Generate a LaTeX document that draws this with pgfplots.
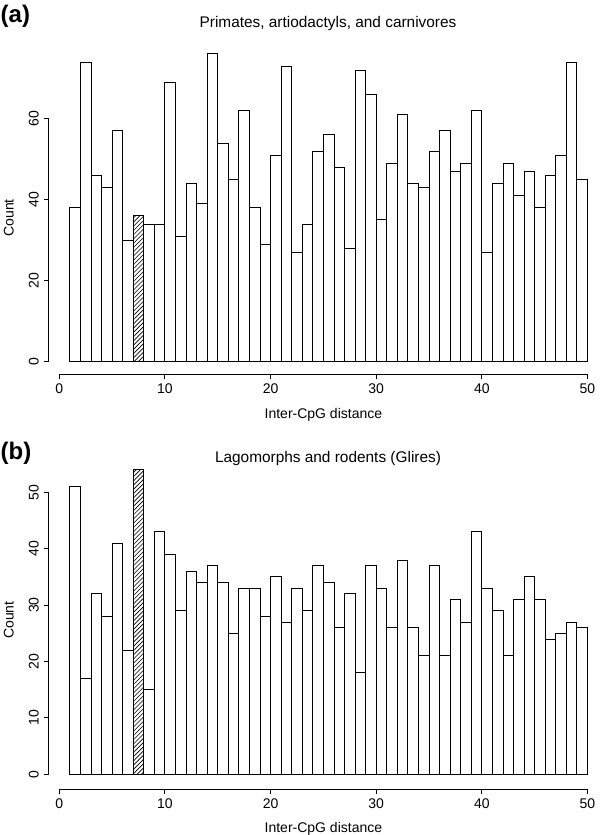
\documentclass[border=0pt]{standalone}
\usepackage{fontspec}
\setmainfont{Liberation Sans}
\usepackage{pgfplots}
\pgfplotsset{compat=1.18}
\usetikzlibrary{patterns.meta}

% R-style histogram panel: 1 px of the reference = 1 pt here
\pgfplotsset{
  rhist/.style={
    scale only axis,
    anchor=south west,
    width=549.3pt,
    xmin=-1, xmax=51,
    axis x line=bottom, axis y line=left,
    axis line style={draw=none},
    tick align=outside,
    major tick length=5pt,
    tick style={black, line width=0.9pt},
    xtick={0,10,...,50},
    ticklabel style={font=\fontsize{14}{16}\selectfont, inner sep=4.7pt},
    yticklabel style={rotate=90, anchor=south},
    /pgf/number format/assume math mode=true,
    clip=false,
  },
  bars/.style={ybar, bar width=1, fill=white, draw=black, line width=0.9pt},
  hatch/.style={ybar, bar width=1, draw=black, line width=0.9pt,
    pattern={Lines[angle=45, distance=3pt, line width=0.6pt]}},
}

\begin{document}
\begin{tikzpicture}[x=1pt, y=1pt]
\useasboundingbox (0,0) rectangle (600,835);

% (a) Primates, artiodactyls, and carnivores
\begin{axis}[rhist, at={(48.74pt,460.7pt)}, height=336.6pt,
    ymin=-3.11, ymax=80, ytick={0,20,40,60}]
  \addplot[bars] coordinates {
    (1.5,38)(2.5,74)(3.5,46)(4.5,43)(5.5,57)(6.5,30)(7.5,36)(8.5,34)
    (9.5,34)(10.5,69)(11.5,31)(12.5,44)(13.5,39)(14.5,76)(15.5,54)
    (16.5,45)(17.5,62)(18.5,38)(19.5,29)(20.5,51)(21.5,73)(22.5,27)
    (23.5,34)(24.5,52)(25.5,56)(26.5,48)(27.5,28)(28.5,72)(29.5,66)
    (30.5,35)(31.5,49)(32.5,61)(33.5,44)(34.5,43)(35.5,52)(36.5,57)
    (37.5,47)(38.5,49)(39.5,62)(40.5,27)(41.5,44)(42.5,49)(43.5,41)
    (44.5,47)(45.5,38)(46.5,46)(47.5,51)(48.5,74)(49.5,45)
  };
  \addplot[hatch] coordinates {(7.5,36)};
  \draw[line width=0.9pt] (axis cs:0,-3.11) -- (axis cs:50,-3.11);
  \draw[line width=0.9pt] (axis cs:-1,0) -- (axis cs:-1,60);
\end{axis}

% (b) Lagomorphs and rodents (Glires)
\begin{axis}[rhist, at={(48.74pt,45.7pt)}, height=330.8pt,
    ymin=-2.66, ymax=56, ytick={0,10,...,50}]
  \addplot[bars] coordinates {
    (1.5,51)(2.5,17)(3.5,32)(4.5,28)(5.5,41)(6.5,22)(7.5,54)(8.5,15)
    (9.5,43)(10.5,39)(11.5,29)(12.5,36)(13.5,34)(14.5,37)(15.5,34)
    (16.5,25)(17.5,33)(18.5,33)(19.5,28)(20.5,35)(21.5,27)(22.5,33)
    (23.5,29)(24.5,37)(25.5,34)(26.5,26)(27.5,32)(28.5,18)(29.5,37)
    (30.5,33)(31.5,26)(32.5,38)(33.5,26)(34.5,21)(35.5,37)(36.5,21)
    (37.5,31)(38.5,27)(39.5,43)(40.5,33)(41.5,29)(42.5,21)(43.5,31)
    (44.5,35)(45.5,31)(46.5,24)(47.5,25)(48.5,27)(49.5,26)
  };
  \addplot[hatch] coordinates {(7.5,54)};
  \draw[line width=0.9pt] (axis cs:0,-2.66) -- (axis cs:50,-2.66);
  \draw[line width=0.9pt] (axis cs:-1,0) -- (axis cs:-1,50);
\end{axis}

% panel letters, titles and axis labels
\begin{scope}[every node/.style={inner sep=0pt}]
  \node[anchor=base west, font=\fontsize{24}{28}\selectfont\bfseries]
    at (0.5,812.3) {(a)};
  \node[anchor=base west, font=\fontsize{24}{28}\selectfont\bfseries]
    at (0.5,375.8) {(b)};
  \node[anchor=base, font=\fontsize{15.4}{18}\selectfont]
    at (328,807.9) {Primates, artiodactyls, and carnivores};
  \node[anchor=base, font=\fontsize{15.4}{18}\selectfont]
    at (328,372) {Lagomorphs and rodents (Glires)};
  \node[anchor=base, rotate=90, font=\fontsize{14}{16}\selectfont]
    at (13.7,617) {Count};
  \node[anchor=base, rotate=90, font=\fontsize{14}{16}\selectfont]
    at (13.7,215) {Count};
  \node[anchor=base, font=\fontsize{14}{16}\selectfont]
    at (323.4,416.5) {Inter-CpG distance};
  \node[anchor=base, font=\fontsize{14}{16}\selectfont]
    at (323.4,2.5) {Inter-CpG distance};
\end{scope}
\end{tikzpicture}
\end{document}
